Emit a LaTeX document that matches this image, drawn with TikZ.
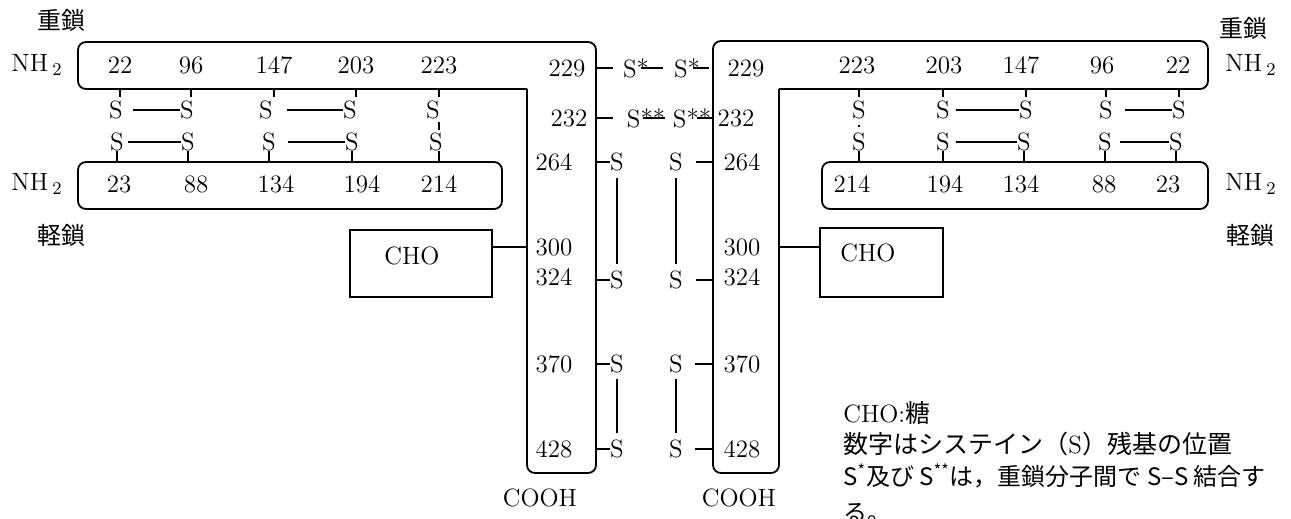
\documentclass[tikz,border=0pt]{standalone}
\usepackage{fontspec}
\newfontfamily\jp{Noto Sans CJK JP}
\begin{document}
\begin{tikzpicture}[
  x=0.5pt, y=-0.5pt,
  chain/.style={draw, line width=0.9pt, rounded corners=4pt},
  chobox/.style={draw, line width=0.9pt},
  num/.style={inner sep=0pt, font=\fontsize{12.5}{14}\selectfont},
  jlab/.style={inner sep=0pt, font=\fontsize{12}{14}\selectfont\jp},
  bond/.style={line width=0.6pt},
]
  \useasboundingbox (0,0) rectangle (1291,519);

  % Chain outlines
  \draw[chain] (527,89) -- (78,89) -- (78,42) -- (596,42) -- (596,473) -- (527,473) -- (527,89);
  \draw[chain] (779,89) -- (1208,89) -- (1208,41) -- (713,41) -- (713,473) -- (779,473) -- (779,89);
  \draw[chain] (78,162) rectangle (502,209);
  \draw[chain] (822,162) rectangle (1208,209);

  % Chain edges
  \coordinate (hbot) at (0,89);
  \coordinate (ltop) at (0,162);
  \coordinate (lin) at (527,0);
  \coordinate (lout) at (596,0);
  \coordinate (rin) at (713,0);
  \coordinate (rout) at (779,0);

  % Chain labels
  \node[jlab] (lhc) at (62,20) {重鎖};
  \node[jlab] (rhc) at (1243,28) {重鎖};
  \node[jlab] (llc) at (62,235) {軽鎖};
  \node[jlab] (rlc) at (1250,235) {軽鎖};
  \node[num] (lnh1) at (37,65) {NH\,$_2$};
  \node[num] (lnh2) at (37,184) {NH\,$_2$};
  \node[num] (rnh1) at (1251,65) {NH\,$_2$};
  \node[num] (rnh2) at (1251,184) {NH\,$_2$};

  % Left heavy and light chain
  \node[num] (lh22) at (120,65) {22};
  \node[num] (lh96) at (191,65) {96};
  \node[num] (lh147) at (274,65) {147};
  \node[num] (lh203) at (356,65) {203};
  \node[num] (lh223) at (439,65) {223};
  \node[num] (ll23) at (119,184) {23};
  \node[num] (ll88) at (196,184) {88};
  \node[num] (ll134) at (276,184) {134};
  \node[num] (ll194) at (362,184) {194};
  \node[num] (ll214) at (439,184) {214};
  \node[num] (lsa22) at (116,110) {S};
  \node[num] (lsa96) at (187,110) {S};
  \node[num] (lsa147) at (266,110) {S};
  \node[num] (lsa203) at (350,110) {S};
  \node[num] (lsa223) at (433,110) {S};
  \node[num] (lsb23) at (117,142) {S};
  \node[num] (lsb88) at (188,142) {S};
  \node[num] (lsb134) at (269,142) {S};
  \node[num] (lsb194) at (352,142) {S};
  \node[num] (lsb214) at (436,142) {S};

  % Right heavy and light chain
  \node[num] (rh223) at (857,65) {223};
  \node[num] (rh203) at (944,65) {203};
  \node[num] (rh147) at (1021,65) {147};
  \node[num] (rh96) at (1102,65) {96};
  \node[num] (rh22) at (1178,65) {22};
  \node[num] (rl214) at (852,184) {214};
  \node[num] (rl194) at (945,184) {194};
  \node[num] (rl134) at (1021,184) {134};
  \node[num] (rl88) at (1104,184) {88};
  \node[num] (rl23) at (1168,184) {23};
  \node[num] (rsa223) at (859,110) {S};
  \node[num] (rsa203) at (943,110) {S};
  \node[num] (rsa147) at (1026,110) {S};
  \node[num] (rsa96) at (1106,110) {S};
  \node[num] (rsa22) at (1179,110) {S};
  \node[num] (rsb214) at (859,142) {S};
  \node[num] (rsb194) at (943,142) {S};
  \node[num] (rsb134) at (1024,142) {S};
  \node[num] (rsb88) at (1105,142) {S};
  \node[num] (rsb23) at (1176,142) {S};

  % Ticks to the chains
  \draw[bond] (lh22 |- hbot) -- ++(0,8);
  \draw[bond] (lh96 |- hbot) -- ++(0,8);
  \draw[bond] (lh147 |- hbot) -- ++(0,8);
  \draw[bond] (lh203 |- hbot) -- ++(0,8);
  \draw[bond] (lh223 |- hbot) -- ++(0,8);
  \draw[bond] (rsa223 |- hbot) -- ++(0,8);
  \draw[bond] (rsa203 |- hbot) -- ++(0,8);
  \draw[bond] (rsa147 |- hbot) -- ++(0,8);
  \draw[bond] (rsa96 |- hbot) -- ++(0,8);
  \draw[bond] (rsa22 |- hbot) -- ++(0,8);
  \draw[bond] (lsb23.south) -- (lsb23.south |- ltop);
  \draw[bond] (lsb88.south) -- (lsb88.south |- ltop);
  \draw[bond] (lsb134.south) -- (lsb134.south |- ltop);
  \draw[bond] (lsb194.south) -- (lsb194.south |- ltop);
  \draw[bond] (ll214.north |- lsb214.south) -- (ll214.north |- ltop);
  \draw[bond] (rsb214.south) -- (rsb214.south |- ltop);
  \draw[bond] (rsb194.south) -- (rsb194.south |- ltop);
  \draw[bond] (rsb134.south) -- (rsb134.south |- ltop);
  \draw[bond] (rsb88.south) -- (rsb88.south |- ltop);
  \draw[bond] (rsb23.south) -- (rsb23.south |- ltop);

  % S-S bonds between the chains
  \draw[bond, shorten <=5pt] (lsa22.east) -- (lsa96.west);
  \draw[bond, shorten <=7pt] (lsa147.east) -- (lsa203.west);
  \draw[bond, shorten <=2pt] (lsb23.east) -- (lsb88.west);
  \draw[bond, shorten <=6pt] (lsb134.east) -- (lsb194.west);
  \draw[bond, shorten <=1.5pt, shorten >=1.5pt] (lh223 |- lsa223.south) -- (lh223 |- lsb214.north);
  \draw[bond, shorten <=3pt] (rsa203.east) -- (rsa147.west);
  \draw[bond, shorten <=6pt] (rsa96.east) -- (rsa22.west);
  \draw[bond, shorten <=3pt] (rsb194.east) -- (rsb134.west);
  \draw[bond, shorten <=4pt] (rsb88.east) -- (rsb23.west);
  \draw[bond, shorten <=3pt, shorten >=3pt] (rsa223.south) -- (rsb214.north);

  % Hinge and Fc numbers
  \node[num] (lc229) at (567,68) {229};
  \node[num] (lc232) at (569,118) {232};
  \node[num] (lc264) at (554,162) {264};
  \node[num] (lc300) at (554,247) {300};
  \node[num] (lc324) at (554,277) {324};
  \node[num] (lc370) at (554,364) {370};
  \node[num] (lc428) at (554,449) {428};
  \node[num] (rc229) at (746,68) {229};
  \node[num] (rc232) at (736,118) {232};
  \node[num] (rc264) at (742,162) {264};
  \node[num] (rc300) at (742,247) {300};
  \node[num] (rc324) at (742,277) {324};
  \node[num] (rc370) at (742,364) {370};
  \node[num] (rc428) at (742,449) {428};

  % Hinge S
  \node[num] (lss1) at (636,68) {S*};
  \node[num] (lss2) at (646,118) {S**};
  \node[num] (rss1) at (687,68) {S*};
  \node[num] (rss2) at (692,118) {S**};
  \node[num] (lcs264) at (617,162) {S};
  \node[num] (lcs324) at (617,280) {S};
  \node[num] (lcs370) at (617,364) {S};
  \node[num] (lcs428) at (617,449) {S};
  \node[num] (rcs264) at (676,162) {S};
  \node[num] (rcs324) at (676,280) {S};
  \node[num] (rcs370) at (676,364) {S};
  \node[num] (rcs428) at (676,449) {S};

  % Hinge bonds
  \draw[bond, shorten >=5pt] (lout |- lss1.west) -- (lss1.west);
  \draw[bond, shorten >=5.5pt] ([xshift=-4pt]lss1.east) -- (rss1.west);
  \draw[bond, shorten >=2pt] ([xshift=-3.5pt]rss1.east) -- (rss1.east -| rin);
  \draw[bond, shorten >=7pt] (lout |- lss2.west) -- (lss2.west);
  \draw[bond] ([xshift=-11pt]lss2.east) -- (lss2.east);
  \draw[bond] ([xshift=-7pt]rss2.east) -- (rss2.east -| rin);
  \draw[bond] (lcs264.west -| lout) -- (lcs264.west);
  \draw[bond] (lcs324.west -| lout) -- (lcs324.west);
  \draw[bond] (lcs370.west -| lout) -- (lcs370.west);
  \draw[bond] (lcs428.west -| lout) -- (lcs428.west);
  \draw[bond, shorten <=6.5pt] (rcs264.east) -- (rcs264.east -| rin);
  \draw[bond, shorten <=6.5pt] (rcs324.east) -- (rcs324.east -| rin);
  \draw[bond, shorten <=6pt] (rcs370.east) -- (rcs370.east -| rin);
  \draw[bond, shorten <=6pt] (rcs428.east) -- (rcs428.east -| rin);
  \draw[bond, shorten <=3.5pt, shorten >=3.5pt] (lcs264.south) -- (lcs324.north);
  \draw[bond, shorten <=3pt, shorten >=3.5pt] (lcs370.south) -- (lcs428.north);
  \draw[bond, shorten <=3.5pt, shorten >=3.5pt] (rcs264.south) -- (rcs324.north);
  \draw[bond, shorten <=3pt, shorten >=3.5pt] (rcs370.south) -- (rcs428.north);

  % Sugar
  \node[chobox, minimum width=71pt, minimum height=33.5pt] (cho1) at (421,263.5) {};
  \node[num] (cho1t) at (412,256) {CHO};
  \node[chobox, minimum width=61.5pt, minimum height=34.5pt] (cho2) at (881.5,262.5) {};
  \node[num] (cho2t) at (868,253) {CHO};
  \draw[bond] (lc300.west -| cho1.east) -- (lc300.west -| lin);
  \draw[bond] (rc300.east -| rout) -- (rc300.east -| cho2.west);

  % C ends
  \node[num] (lcooh) at (540,498) {COOH};
  \node[num] (rcooh) at (739,498) {COOH};

  % Legend
  \node[num, anchor=west] (leg1) at (843,413) {CHO:{\jp 糖}};
  \node[num, anchor=west] (leg2) at (843,444) {{\jp 数字はシステイン（}S{\jp ）残基の位置}};
  \node[jlab, anchor=west] (leg3) at (843,476) {S\textsuperscript{*}及び S\textsuperscript{**}は，重鎖分子間で S–S 結合す};
  \node[jlab, anchor=west] (leg4) at (843,513) {る。};
\end{tikzpicture}
\end{document}
